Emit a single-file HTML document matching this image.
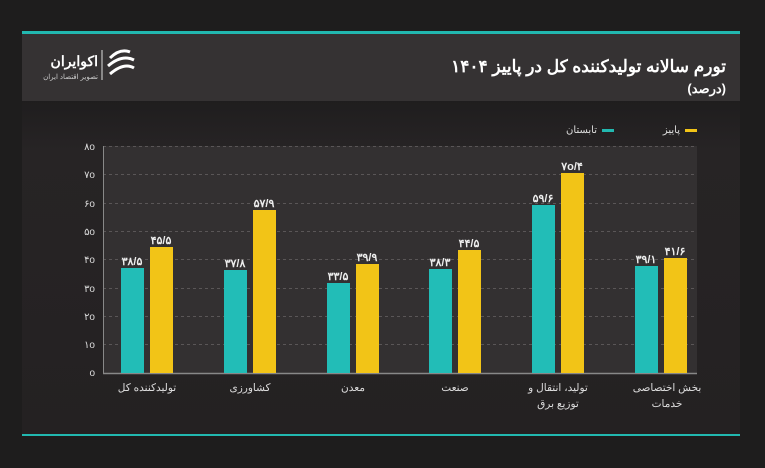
<!DOCTYPE html><html><head><meta charset="utf-8"><style>
body{margin:0;width:765px;height:468px;background:#1e1d1d;overflow:hidden;font-family:"Liberation Sans","Noto Sans CJK SC",sans-serif}
</style></head><body>
<svg width="765" height="468" xmlns="http://www.w3.org/2000/svg" style="position:absolute;left:0;top:0">
<defs><linearGradient id="g" x1="0" y1="0" x2="0" y2="1"><stop offset="0" stop-color="#1f1d1e"/><stop offset="0.15" stop-color="#272425"/><stop offset="1" stop-color="#242122"/></linearGradient></defs>
<rect x="22" y="100" width="718" height="336" fill="url(#g)"/>
<rect x="22" y="31" width="718" height="3" fill="#22b8b0"/>
<rect x="22" y="34" width="718" height="67" fill="#353233"/>
<rect x="22" y="434" width="718" height="2" fill="#22b8b0"/>
<text x="726" y="72" font-size="17" font-weight="bold" fill="#fff" text-anchor="end">تورم سالانه تولیدکننده کل در پاییز ۱۴۰۴</text>
<text x="726" y="93" font-size="13" font-weight="bold" fill="#fff" text-anchor="end">(درصد)</text>
<text x="98" y="66" font-size="14" font-weight="bold" fill="#fff" text-anchor="end">اکوایران</text>
<text x="98" y="79" font-size="7" fill="#ccc" text-anchor="end">تصویر اقتصاد ایران</text>
<line x1="102" y1="50" x2="102" y2="80" stroke="#ddd" stroke-width="1"/>
<g stroke="#fff" stroke-width="3" fill="none"><path d="M110 58 Q120 48 130 52"/><path d="M108 66 Q122 54 134 60"/><path d="M110 74 Q124 62 134 68"/></g>
<rect x="103" y="146" width="594" height="227" fill="#333031"/>
<g stroke="#5a5657" stroke-dasharray="3,3" stroke-width="1">
<line x1="103" y1="146.5" x2="697" y2="146.5"/><line x1="103" y1="174.5" x2="697" y2="174.5"/><line x1="103" y1="203.5" x2="697" y2="203.5"/><line x1="103" y1="231.5" x2="697" y2="231.5"/><line x1="103" y1="259.5" x2="697" y2="259.5"/><line x1="103" y1="288.5" x2="697" y2="288.5"/><line x1="103" y1="316.5" x2="697" y2="316.5"/><line x1="103" y1="344.5" x2="697" y2="344.5"/></g>
<line x1="103.5" y1="146" x2="103.5" y2="374" stroke="#888" stroke-width="1"/>
<line x1="103" y1="373.5" x2="697" y2="373.5" stroke="#888" stroke-width="1.5"/>
<g font-size="10" fill="#ddd" text-anchor="end">
<text x="95" y="150">۸o</text><text x="95" y="178">۷o</text><text x="95" y="207">۶o</text><text x="95" y="235">۵o</text><text x="95" y="263">۴o</text><text x="95" y="292">۳o</text><text x="95" y="320">۲o</text><text x="95" y="348">۱o</text><text x="95" y="376">o</text></g>
<rect x="685" y="129" width="12" height="3" fill="#f2c417"/><text x="680" y="133" font-size="10" fill="#ddd" text-anchor="end">پاییز</text>
<rect x="602" y="129" width="12" height="3" fill="#22b8b0"/><text x="597" y="133" font-size="10" fill="#ddd" text-anchor="end">تابستان</text>
<g font-size="11" fill="#eee" text-anchor="middle" font-weight="bold">
<rect x="121" y="268" width="23" height="105" fill="#22bdb7"/><rect x="150" y="247" width="23" height="126" fill="#f2c417"/>
<text x="132" y="265">۳۸/۵</text><text x="161" y="244">۴۵/۵</text>
<rect x="224" y="270" width="23" height="103" fill="#22bdb7"/><rect x="253" y="210" width="23" height="163" fill="#f2c417"/>
<text x="235" y="267">۳۷/۸</text><text x="264" y="207">۵۷/۹</text>
<rect x="327" y="283" width="23" height="90" fill="#22bdb7"/><rect x="356" y="264" width="23" height="109" fill="#f2c417"/>
<text x="338" y="280">۳۳/۵</text><text x="367" y="261">۳۹/۹</text>
<rect x="429" y="269" width="23" height="104" fill="#22bdb7"/><rect x="458" y="250" width="23" height="123" fill="#f2c417"/>
<text x="440" y="266">۳۸/۳</text><text x="469" y="247">۴۴/۵</text>
<rect x="532" y="205" width="23" height="168" fill="#22bdb7"/><rect x="561" y="173" width="23" height="200" fill="#f2c417"/>
<text x="543" y="202">۵۹/۶</text><text x="572" y="170">۷o/۴</text>
<rect x="635" y="266" width="23" height="107" fill="#22bdb7"/><rect x="664" y="258" width="23" height="115" fill="#f2c417"/>
<text x="646" y="263">۳۹/۱</text><text x="675" y="255">۴۱/۶</text>
</g>
<g font-size="10.5" fill="#ddd" text-anchor="middle">
<text x="147" y="391">تولیدکننده کل</text><text x="250" y="391">کشاورزی</text><text x="353" y="391">معدن</text><text x="455" y="391">صنعت</text>
<text x="558" y="391">تولید، انتقال و</text><text x="558" y="407">توزیع برق</text>
<text x="667" y="391">بخش اختصاصی</text><text x="667" y="407">خدمات</text></g>
</svg></body></html>
